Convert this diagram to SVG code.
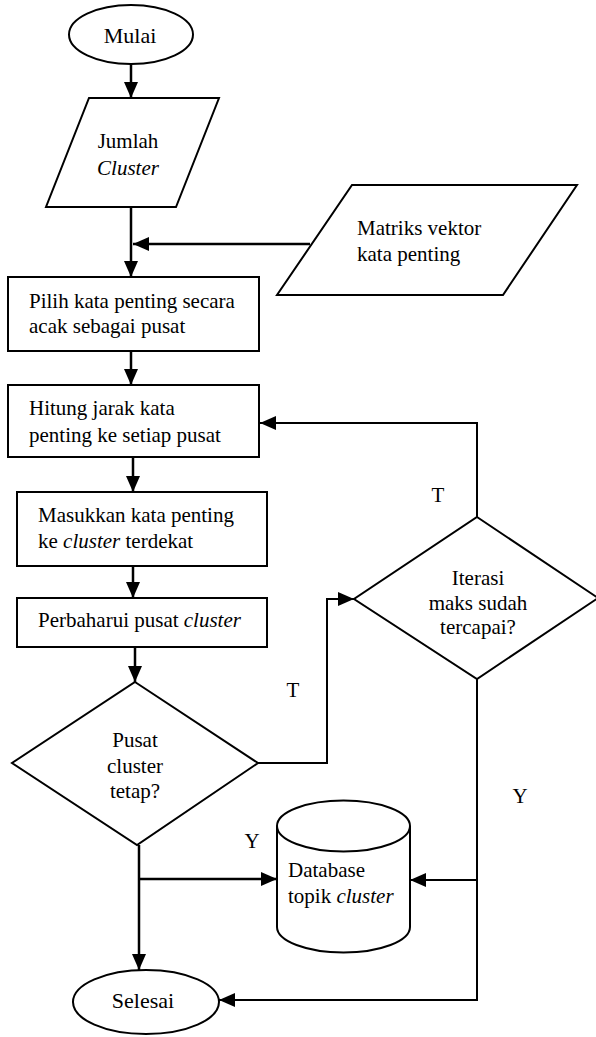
<svg xmlns="http://www.w3.org/2000/svg" width="596" height="1037" viewBox="0 0 596 1037">
<style>
.s{fill:#fff;stroke:#000;stroke-width:2}
.t{font-family:'Liberation Serif','Times New Roman',Tinos,'DejaVu Serif','Noto Serif',Times,serif;font-size:21px;fill:#000}
.c{text-anchor:middle}
.i{font-style:italic}
.k{fill:none;stroke:#000;stroke-width:2.5}
.k2{fill:none;stroke:#000;stroke-width:2}
</style>
<defs>
<marker id="a" markerUnits="userSpaceOnUse" markerWidth="16" markerHeight="14" refX="16" refY="7" orient="auto">
<path d="M0,0 L16,7 L0,14 z" fill="#000"/>
</marker>
</defs>
<rect width="596" height="1037" fill="#fff"/>
<g id="connectors">
<path class="k" d="M131,64 V98" marker-end="url(#a)"/>
<path class="k" d="M131,207 V277" marker-end="url(#a)"/>
<path class="k" d="M310,244 H133" marker-end="url(#a)"/>
<path class="k" d="M131,351 V385" marker-end="url(#a)"/>
<path class="k" d="M133,457 V492" marker-end="url(#a)"/>
<path class="k" d="M133,566 V598" marker-end="url(#a)"/>
<path class="k" d="M135,647 V682" marker-end="url(#a)"/>
<path class="k2" d="M258,763 H327 V599 H354" marker-end="url(#a)"/>
<path class="k2" d="M477,517 V423 H260" marker-end="url(#a)"/>
<path class="k" d="M139,845 V970" marker-end="url(#a)"/>
<path class="k" d="M139,879 H277" marker-end="url(#a)"/>
<path class="k2" d="M477,679 V1000 H219" marker-end="url(#a)"/>
<path class="k2" d="M477,880 H410" marker-end="url(#a)"/>
<text class="t c" x="438" y="502" font-family="Liberation Serif, serif">T</text>
<text class="t c" x="293" y="697" font-family="Liberation Serif, serif">T</text>
<text class="t c" x="520" y="803" font-family="Liberation Serif, serif">Y</text>
<text class="t c" x="252" y="848" font-family="Liberation Serif, serif">Y</text>
</g>
<g id="mulai">
<ellipse class="s" cx="131" cy="34.5" rx="62" ry="29.5"/>
<text class="t c" x="130" y="43" style="font-size:22px">Mulai</text>
</g>
<g id="jumlah">
<polygon class="s" points="89,98 219,98 176,207 46,207"/>
<text class="t c" x="128" y="148">Jumlah</text>
<text class="t c i" x="128" y="175">Cluster</text>
</g>
<g id="matriks">
<polygon class="s" points="352,185 577,185 503,295 277,295"/>
<text class="t" x="357" y="235">Matriks vektor</text>
<text class="t" x="357" y="261">kata penting</text>
</g>
<g id="pilih">
<rect class="s" x="8" y="277" width="251" height="74"/>
<text class="t" x="29" y="308">Pilih kata penting secara</text>
<text class="t" x="29" y="333">acak sebagai pusat</text>
</g>
<g id="hitung">
<rect class="s" x="8" y="385" width="251" height="72"/>
<text class="t" x="29" y="415">Hitung jarak kata</text>
<text class="t" x="29" y="442">penting ke setiap pusat</text>
</g>
<g id="masukkan">
<rect class="s" x="17" y="492" width="250" height="74"/>
<text class="t" x="38" y="522">Masukkan kata penting</text>
<text class="t" x="38" y="548">ke <tspan class="i">cluster</tspan> terdekat</text>
</g>
<g id="perbaharui">
<rect class="s" x="17" y="598" width="250" height="49"/>
<text class="t" x="38" y="627">Perbaharui pusat <tspan class="i">cluster</tspan></text>
</g>
<g id="pusat">
<polygon class="s" points="135,682 258,763 137,845 12,763"/>
<text class="t c" x="135" y="747">Pusat</text>
<text class="t c" x="135" y="773">cluster</text>
<text class="t c" x="135" y="798">tetap?</text>
</g>
<g id="iterasi">
<polygon class="s" points="477,517 598,598 477,679 354,599"/>
<text class="t c" x="478" y="585">Iterasi</text>
<text class="t c" x="478" y="610">maks sudah</text>
<text class="t c" x="478" y="634">tercapai?</text>
</g>
<g id="database">
<path class="s" d="M277,826 V927 A66.5,25.5 0 0 0 410,927 V826"/>
<ellipse class="s" cx="343.5" cy="826" rx="66.5" ry="25.5"/>
<text class="t" x="288" y="877">Database</text>
<text class="t" x="288" y="903">topik <tspan class="i">cluster</tspan></text>
</g>
<g id="selesai">
<ellipse class="s" cx="146" cy="1002" rx="73" ry="32"/>
<text class="t c" x="143" y="1008" style="font-size:22px">Selesai</text>
</g>
</svg>
